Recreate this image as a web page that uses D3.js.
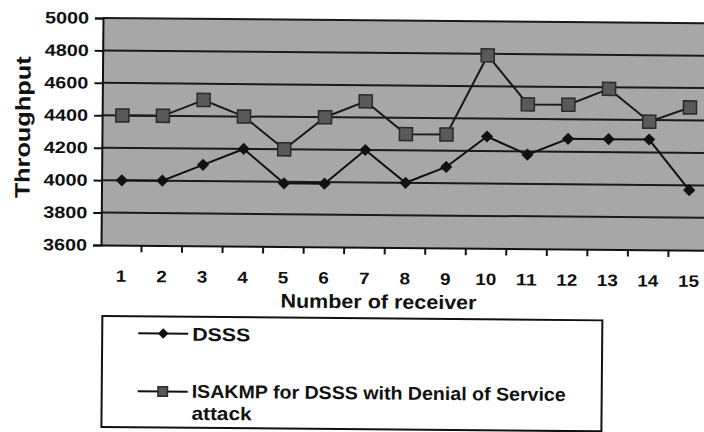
<!DOCTYPE html>
<html>
<head>
<meta charset="utf-8">
<script src="https://cdn.jsdelivr.net/npm/d3@7"></script>
<style>
  body { margin: 0; background: #fff; }
  svg { display: block; font-family: "Liberation Sans", Arial, sans-serif; font-weight: bold; }
</style>
</head>
<body>
<div id="chart"></div>
<script>
// chart values
var receivers = [1, 2, 3, 4, 5, 6, 7, 8, 9, 10, 11, 12, 13, 14, 15];
var dsss = [4000, 4000, 4100, 4200, 3990, 3990, 4200, 4000, 4100, 4290, 4180, 4280, 4280, 4280, 3970];
var isakmp = [4400, 4400, 4500, 4400, 4200, 4400, 4500, 4300, 4300, 4790, 4490, 4490, 4590, 4390, 4480];
var yTicks = [3600, 3800, 4000, 4200, 4400, 4600, 4800, 5000];
var seriesNames = ["DSSS", "ISAKMP for DSSS with Denial of Service", "attack"];

var svgWidth = 704;
var svgHeight = 432;

var plot = { left: 102, right: 710, top: 18, bottom: 245 };

var svg = d3.select("#chart")
    .append("svg")
    .attr("width", svgWidth)
    .attr("height", svgHeight);

// the scanned page sits a little crooked
var page = svg.append("g")
    .attr("transform", "rotate(0.5, 102, 130)");

var x = d3.scaleBand()
    .domain(receivers)
    .range([plot.left, plot.right]);

var y = d3.scaleLinear()
    .domain([3600, 5000])
    .range([plot.bottom, plot.top]);

// plot background
page.append("rect")
    .attr("x", plot.left)
    .attr("y", plot.top)
    .attr("width", plot.right - plot.left + 20)
    .attr("height", plot.bottom - plot.top)
    .attr("fill", "#a7a7a7");

// gridlines
page.append("g")
    .selectAll("line")
    .data(yTicks.slice(1))
    .enter()
    .append("line")
    .attr("x1", plot.left)
    .attr("x2", plot.right + 20)
    .attr("y1", d => y(d))
    .attr("y2", d => y(d))
    .attr("stroke", "#1a1a1a")
    .attr("stroke-width", 2);

// y axis
var leftAxis = d3.axisLeft(y)
    .tickValues(yTicks)
    .tickSize(8)
    .tickPadding(6)
    .tickFormat(d3.format("d"));

var yAxis = page.append("g")
    .attr("transform", `translate(${plot.left}, 0)`)
    .call(leftAxis);
yAxis.select(".domain").attr("stroke", "#111").attr("stroke-width", 2);
yAxis.selectAll(".tick line").attr("stroke", "#111").attr("stroke-width", 2);
yAxis.selectAll("text")
    .attr("fill", "#111")
    .attr("textLength", 44)
    .attr("lengthAdjust", "spacingAndGlyphs")
    .style("font-size", "16.5px")
    .style("font-family", "'Liberation Sans', Arial, sans-serif")
    .style("font-weight", "bold");

// x axis: ticks between categories, labels centred
var bottomAxis = d3.axisBottom(x)
    .tickSize(0)
    .tickPadding(25);

var xAxis = page.append("g")
    .attr("transform", `translate(0, ${plot.bottom})`)
    .call(bottomAxis);
xAxis.select(".domain").attr("stroke", "#111").attr("stroke-width", 2);
xAxis.selectAll("text")
    .attr("fill", "#111")
    .attr("textLength", d => String(d).length * 10.5)
    .attr("lengthAdjust", "spacingAndGlyphs")
    .style("font-size", "16.5px")
    .style("font-family", "'Liberation Sans', Arial, sans-serif")
    .style("font-weight", "bold");

xAxis.selectAll(".sep")
    .data(receivers)
    .enter()
    .append("line")
    .attr("class", "sep")
    .attr("x1", d => x(d) + x.bandwidth())
    .attr("x2", d => x(d) + x.bandwidth())
    .attr("y1", 0)
    .attr("y2", 7)
    .attr("stroke", "#111")
    .attr("stroke-width", 2);

// axis titles
page.append("text")
    .attr("transform", "rotate(-90)")
    .attr("x", -128)
    .attr("y", 30)
    .attr("text-anchor", "middle")
    .attr("textLength", 142)
    .attr("lengthAdjust", "spacingAndGlyphs")
    .style("font-size", "21px")
    .attr("fill", "#111")
    .text("Throughput");

page.append("text")
    .attr("x", 380)
    .attr("y", 306)
    .attr("text-anchor", "middle")
    .attr("textLength", 196)
    .attr("lengthAdjust", "spacingAndGlyphs")
    .style("font-size", "19.5px")
    .attr("fill", "#111")
    .text("Number of receiver");

// lines
var line = d3.line()
    .x((d, i) => x(receivers[i]) + x.bandwidth() / 2)
    .y(d => y(d));

page.append("path")
    .datum(dsss)
    .attr("d", line)
    .attr("fill", "none")
    .attr("stroke", "#111")
    .attr("stroke-width", 2);

page.append("path")
    .datum(isakmp)
    .attr("d", line)
    .attr("fill", "none")
    .attr("stroke", "#1a1a1a")
    .attr("stroke-width", 2);

var diamond = d3.symbol().type(d3.symbolDiamond2).size(95);
var square = d3.symbol().type(d3.symbolSquare).size(170);

page.append("g")
    .selectAll("path")
    .data(dsss)
    .enter()
    .append("path")
    .attr("transform", (d, i) => `translate(${x(receivers[i]) + x.bandwidth() / 2}, ${y(d)})`)
    .attr("d", diamond)
    .attr("fill", "#111");

page.append("g")
    .selectAll("path")
    .data(isakmp)
    .enter()
    .append("path")
    .attr("transform", (d, i) => `translate(${x(receivers[i]) + x.bandwidth() / 2}, ${y(d)})`)
    .attr("d", square)
    .attr("fill", "#595959")
    .attr("stroke", "#2a2a2a")
    .attr("stroke-width", 1.5);

// legend
var legend = page.append("g");
legend.append("rect")
    .attr("x", 104)
    .attr("y", 316)
    .attr("width", 500)
    .attr("height", 111)
    .attr("fill", "#fff")
    .attr("stroke", "#111")
    .attr("stroke-width", 2);

var legendY = [333, 391];
legend.selectAll(".lline")
    .data(legendY)
    .enter()
    .append("line")
    .attr("x1", 140)
    .attr("x2", 190)
    .attr("y1", d => d)
    .attr("y2", d => d)
    .attr("stroke", "#111")
    .attr("stroke-width", 2);

legend.append("path")
    .attr("transform", `translate(165, ${legendY[0]})`)
    .attr("d", d3.symbol().type(d3.symbolDiamond2).size(70))
    .attr("fill", "#111");
legend.append("path")
    .attr("transform", `translate(165, ${legendY[1]})`)
    .attr("d", d3.symbol().type(d3.symbolSquare).size(90))
    .attr("fill", "#595959")
    .attr("stroke", "#2a2a2a")
    .attr("stroke-width", 1.5);

legend.append("text")
    .attr("x", 194)
    .attr("y", 340)
    .attr("textLength", 58)
    .attr("lengthAdjust", "spacingAndGlyphs")
    .style("font-size", "18.5px")
    .attr("fill", "#111")
    .text(seriesNames[0]);

legend.append("text")
    .attr("x", 194)
    .attr("y", 397)
    .attr("textLength", 374)
    .attr("lengthAdjust", "spacingAndGlyphs")
    .style("font-size", "18.5px")
    .attr("fill", "#111")
    .text(seriesNames[1]);

legend.append("text")
    .attr("x", 194)
    .attr("y", 419)
    .attr("textLength", 60)
    .attr("lengthAdjust", "spacingAndGlyphs")
    .style("font-size", "18.5px")
    .attr("fill", "#111")
    .text(seriesNames[2]);
</script>
</body>
</html>
